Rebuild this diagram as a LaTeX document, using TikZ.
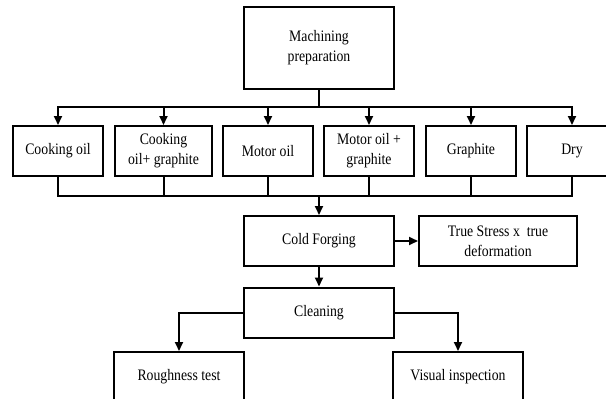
\documentclass[tikz,border=0pt]{standalone}
\usepackage{fontspec}
\setmainfont{Liberation Serif}[FakeStretch=0.86]
\usetikzlibrary{arrows.meta}
\begin{document}
\begin{tikzpicture}[x=1pt, y=-1pt,
    box/.style = {draw, line width=2pt, inner sep=0pt, minimum height=50pt, align=center,
                  font=\fontsize{16}{20}\selectfont},
    line/.style = {line width=2pt, line cap=rect},
    arr/.style = {line width=2pt, -{Triangle[length=9pt,width=8pt]}}]
  \path[fill=white, use as bounding box] (0,0) rectangle (606,399);
  % top
  \node[box, minimum width=150pt, minimum height=82pt] (prep) at (319,48) {Machining\\preparation};
  % lubricant row
  \node[box, minimum width=90pt] (cook)   at (58,151)    {Cooking oil};
  \node[box, minimum width=97pt] (cookg)  at (163.5,151) {Cooking\\oil+ graphite};
  \node[box, minimum width=90pt] (motor)  at (268,151)   {Motor oil};
  \node[box, minimum width=90pt] (motorg) at (369,151)   {Motor oil +\\graphite};
  \node[box, minimum width=90pt] (graph)  at (471,151)   {Graphite};
  \node[box, minimum width=90pt] (dry)    at (572,151)   {Dry};
  % process
  \node[box, minimum width=150pt] (cold)   at (319,241)   {Cold Forging};
  \node[box, minimum width=158pt] (stress) at (498,241)   {True Stress x~ true\\deformation};
  \node[box, minimum width=150pt] (clean)  at (319,312.5) {Cleaning};
  \node[box, minimum width=130pt] (rough)  at (179,377)   {Roughness test};
  \node[box, minimum width=130pt] (visual) at (458,377)   {Visual inspection};
  % buses
  \coordinate (tb) at (319,107);
  \coordinate (bb) at (319,196);
  \draw[line] (prep.south) -- (tb);
  \draw[line] (tb -| cook.north) -- (tb -| dry.north);
  \draw[line] (bb -| cook.south) -- (bb -| dry.south);
  \foreach \n in {cook,cookg,motor,motorg,graph,dry} {
    \draw[arr] (tb -| \n.north) -- (\n.north);
    \draw[line] (\n.south) -- (bb -| \n.south);
  }
  % flow
  \draw[arr] (bb) -- (cold.north);
  \draw[arr] (cold.east) -- (stress.west);
  \draw[arr] (cold.south) -- (clean.north);
  \draw[arr] (clean.west) -| (rough.north);
  \draw[arr] (clean.east) -| (visual.north);
\end{tikzpicture}
\end{document}
